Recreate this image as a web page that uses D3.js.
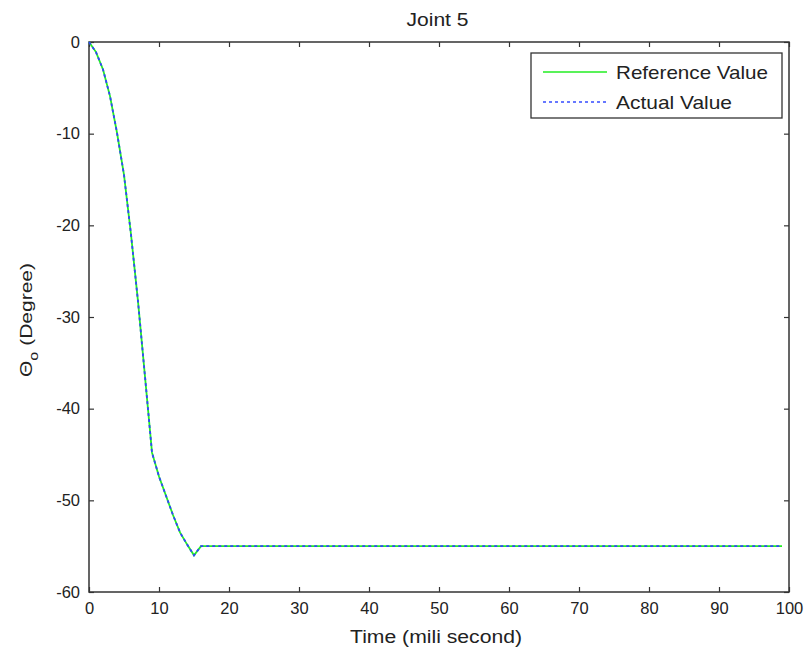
<!DOCTYPE html>
<html><head><meta charset="utf-8">
<script src="https://cdn.jsdelivr.net/npm/d3@7"></script>
<style>body{margin:0;background:#fff;} text{font-family:"Liberation Sans",Arial,sans-serif;fill:#222;}</style>
</head><body><svg id="c" width="810" height="653"></svg>
<script>
const timeEarly = [0,1,2,3,4,5,6,7,8,9,10,11,12,13,14,15,16];
const refEarly  = [0,-1.1,-3,-5.9,-9.9,-14.5,-21,-28.3,-36.5,-44.8,-47.4,-49.5,-51.6,-53.5,-54.8,-56,-55];
const actEarly  = [0,-1.1,-3,-5.9,-9.9,-14.5,-21,-28.3,-36.5,-44.8,-47.4,-49.5,-51.6,-53.5,-54.8,-56,-55];
const steadyTime = [20,30,40,50,60,70,80,90,99];
const steadyValue = -55;
const xTicks = [0,10,20,30,40,50,60,70,80,90,100];
const yTicks = [0,-10,-20,-30,-40,-50,-60];
const legendLabels = ["Reference Value","Actual Value"];

const ref = timeEarly.map((t,i)=>[t,refEarly[i]]).concat(steadyTime.map(t=>[t,steadyValue]));
const act = timeEarly.map((t,i)=>[t,actEarly[i]]).concat(steadyTime.map(t=>[t,steadyValue]));

const L=89, R=789, T=42, B=592;
const svg=d3.select("#c");
const x=d3.scaleLinear().domain([0,100]).range([L,R]);
const y=d3.scaleLinear().domain([-60,0]).range([B,T]);
const fmt=d=>String(d);

const axColor="#333";
svg.append("rect").attr("x",L).attr("y",T).attr("width",R-L).attr("height",B-T)
  .attr("fill","none").attr("stroke",axColor).attr("stroke-width",1.5);

const gx=svg.append("g").attr("transform",`translate(0,${B})`)
  .call(d3.axisBottom(x).tickValues(xTicks).tickFormat(fmt).tickSizeInner(-5).tickSizeOuter(0).tickPadding(10));
const gxt=svg.append("g").attr("transform",`translate(0,${T})`)
  .call(d3.axisTop(x).tickValues(xTicks).tickSizeInner(-5).tickSizeOuter(0).tickFormat(""));
const gy=svg.append("g").attr("transform",`translate(${L},0)`)
  .call(d3.axisLeft(y).tickValues(yTicks).tickFormat(fmt).tickSizeInner(-5).tickSizeOuter(0).tickPadding(9));
const gyr=svg.append("g").attr("transform",`translate(${R},0)`)
  .call(d3.axisRight(y).tickValues(yTicks).tickSizeInner(-5).tickSizeOuter(0).tickFormat(""));
[gx,gxt,gy,gyr].forEach(g=>{
  g.select(".domain").remove();
  g.selectAll(".tick line").attr("stroke",axColor).attr("stroke-width",1.2);
  g.selectAll("text").attr("font-size",16.5).attr("fill","#222").attr("font-family","Liberation Sans, Arial, sans-serif");
});

const line=d3.line().x(d=>x(d[0])).y(d=>y(d[1]));
svg.append("path").datum(ref).attr("d",line).attr("fill","none").attr("stroke","#22ee22").attr("stroke-width",1.8);
svg.append("path").datum(act).attr("d",line).attr("fill","none").attr("stroke","#3344ff").attr("stroke-width",1.8).attr("stroke-dasharray","3,3");

svg.append("text").attr("x",437.5).attr("y",26).attr("text-anchor","middle").attr("font-size",18)
  .attr("textLength",62).attr("lengthAdjust","spacingAndGlyphs").text("Joint 5");
svg.append("text").attr("x",436).attr("y",643).attr("text-anchor","middle").attr("font-size",17.5)
  .attr("textLength",172).attr("lengthAdjust","spacingAndGlyphs").text("Time (mili second)");
const yl=svg.append("text").attr("transform","translate(32,320) rotate(-90)").attr("text-anchor","middle").attr("font-size",17)
  .attr("textLength",114).attr("lengthAdjust","spacingAndGlyphs");
yl.append("tspan").text("Θ");
yl.append("tspan").attr("dy",6).attr("font-size",13).text("o");
yl.append("tspan").attr("dy",-6).text(" (Degree)");

svg.append("rect").attr("x",531).attr("y",53).attr("width",251).attr("height",65)
  .attr("fill","#fff").attr("stroke",axColor).attr("stroke-width",1.3);
const ly=[72,102];
svg.append("line").attr("x1",543).attr("x2",607).attr("y1",ly[0]).attr("y2",ly[0]).attr("stroke","#22ee22").attr("stroke-width",1.6);
svg.append("line").attr("x1",543).attr("x2",607).attr("y1",ly[1]).attr("y2",ly[1]).attr("stroke","#6677ff").attr("stroke-width",1.8).attr("stroke-dasharray","3,3");
const lw=[152,116];
legendLabels.forEach((s,i)=>svg.append("text").attr("x",616).attr("y",ly[i]+6.5).attr("font-size",19)
  .attr("textLength",lw[i]).attr("lengthAdjust","spacingAndGlyphs").text(s));
</script></body></html>
